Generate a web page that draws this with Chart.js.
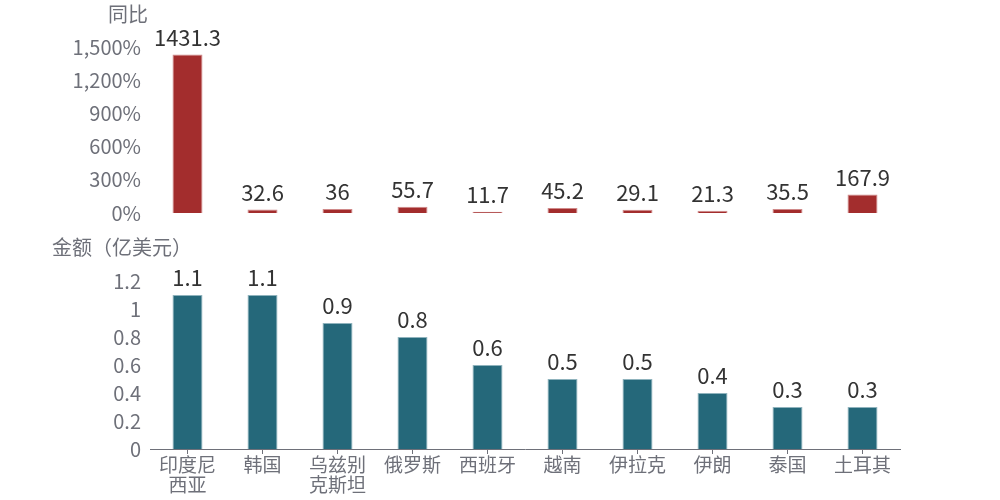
<!DOCTYPE html>
<html lang="zh">
  <head>
    <meta charset="UTF-8" />
    <title>同比与金额</title>
    <style>
      body { margin: 0; background: #fff; font-family: "Microsoft YaHei", "Noto Sans CJK SC", sans-serif; }
      .wrap { position: relative; width: 1000px; height: 500px; }
      .box { position: absolute; left: 0; width: 1000px; }
      .ttl { position: absolute; color: #6e7079; font-size: 20px; white-space: nowrap; }
    </style>
  </head>
  <body>
    <script src="https://cdn.jsdelivr.net/npm/chart.js"></script>
    <div class="wrap">
      <div class="box" style="top: 0; height: 234px"><canvas id="top"></canvas></div>
      <div class="box" style="top: 230px; height: 270px"><canvas id="bottom"></canvas></div>
      <div class="ttl" style="left: 108px; top: -1px">同比</div>
      <div class="ttl" style="left: 52px; top: 232px">金额（亿美元）</div>
    </div>

    <script>
      const categories = ["印度尼西亚", "韩国", "乌兹别克斯坦", "俄罗斯", "西班牙", "越南", "伊拉克", "伊朗", "泰国", "土耳其"];
      const yoy = [1431.3, 32.6, 36, 55.7, 11.7, 45.2, 29.1, 21.3, 35.5, 167.9]; // 同比 %
      const amount = [1.1, 1.1, 0.9, 0.8, 0.6, 0.5, 0.5, 0.4, 0.3, 0.3]; // 亿美元

      const FONT = "'Microsoft YaHei', 'Noto Sans CJK SC', sans-serif";
      const GRAY = "#6e7079";

      // 长名字拆两行
      const labels = categories.map((c) => (c.length > 4 ? [c.slice(0, 3), c.slice(3)] : c));

      // 柱顶数值
      const valueLabels = {
        id: "valueLabels",
        afterDatasetsDraw(chart) {
          const ctx = chart.ctx;
          ctx.save();
          ctx.font = "22px " + FONT;
          ctx.fillStyle = "#333";
          ctx.textAlign = "center";
          ctx.textBaseline = "bottom";
          chart.getDatasetMeta(0).data.forEach((bar, i) => {
            ctx.fillText(String(chart.data.datasets[0].data[i]), bar.x, bar.y - 6);
          });
          ctx.restore();
        },
      };

      const yTicks = { color: GRAY, padding: 9, font: { size: 20, family: FONT } };

      window.onload = () => {
        new Chart(document.getElementById("top"), {
          type: "bar",
          data: {
            labels: labels,
            datasets: [{
              data: yoy,
              backgroundColor: "#a32d2d",
              borderColor: "#d08a8a",
              borderWidth: 1,
              barPercentage: 0.5,
              categoryPercentage: 0.8,
            }],
          },
          options: {
            animation: false,
            maintainAspectRatio: false,
            layout: { padding: { top: 47, right: 100, bottom: 20 } },
            plugins: { legend: { display: false }, tooltip: { enabled: false } },
            scales: {
              x: { display: false },
              y: {
                min: 0,
                max: 1500,
                afterFit: (s) => { s.width = 150; },
                grid: { display: false, drawTicks: false },
                border: { display: false },
                ticks: Object.assign({ stepSize: 300, callback: (v) => v.toLocaleString("en-US") + "%" }, yTicks),
              },
            },
          },
          plugins: [valueLabels],
        });

        new Chart(document.getElementById("bottom"), {
          type: "bar",
          data: {
            labels: labels,
            datasets: [{
              data: amount,
              backgroundColor: "#25687a",
              borderColor: "#8fb3bd",
              borderWidth: 1,
              barPercentage: 0.5,
              categoryPercentage: 0.8,
            }],
          },
          options: {
            animation: false,
            maintainAspectRatio: false,
            layout: { padding: { top: 51, right: 100, bottom: 0 } },
            plugins: { legend: { display: false }, tooltip: { enabled: false } },
            scales: {
              x: {
                afterFit: (s) => { s.height = 51; },
                grid: { offset: false, drawOnChartArea: false, tickLength: 5, color: GRAY },
                border: { color: GRAY },
                ticks: { color: GRAY, padding: 1, maxRotation: 0, autoSkip: false, font: { size: 19, family: FONT, lineHeight: 1.05 } },
              },
              y: {
                min: 0,
                max: 1.2,
                afterFit: (s) => { s.width = 150; },
                grid: { display: false, drawTicks: false },
                border: { display: false },
                ticks: Object.assign({ stepSize: 0.2, callback: (v) => String(Math.round(v * 10) / 10) }, yTicks),
              },
            },
          },
          plugins: [valueLabels],
        });
      };
    </script>
  </body>
</html>
